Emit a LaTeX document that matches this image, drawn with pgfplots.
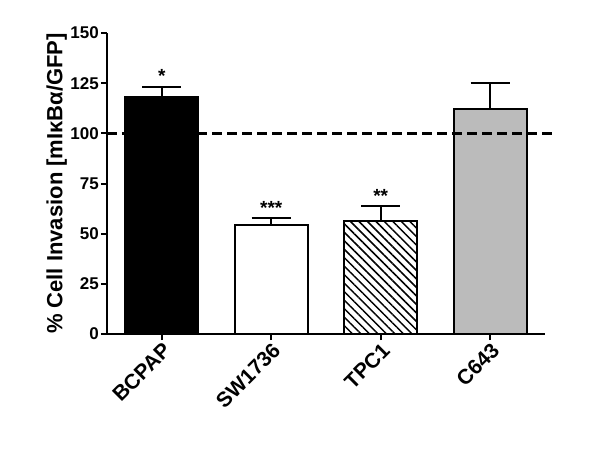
\documentclass[border=0pt]{standalone}
\usepackage{fontspec}
\setmainfont{Liberation Sans}
\usepackage{pgfplots}
\pgfplotsset{compat=1.18}
\usetikzlibrary{patterns,patterns.meta}
\definecolor{bargray}{RGB}{187,187,187}
\begin{document}
\begin{tikzpicture}[font=\bfseries\fontsize{17}{20}\selectfont]
\begin{axis}[name=a, scale only axis, width=438pt, height=301pt,
  xmin=-0.5, xmax=3.5, ymin=0, ymax=150,
  ytick={0,25,...,150}, xtick={0,1,2,3},
  xticklabels={BCPAP,SW1736,TPC1,C643},
  axis lines*=left,
  axis line style={line width=2.5pt, -},
  tick style={line width=2pt, black},
  tick align=outside, major tick length=6pt,
  xticklabel style={rotate=45, anchor=north east, inner sep=1pt,
    font=\bfseries\fontsize{21}{25}\selectfont},
  yticklabel style={inner sep=2pt},
  ylabel={\% Cell Invasion [mIκBα/GFP]},
  ylabel style={font=\bfseries\fontsize{22}{26}\selectfont, yshift=-2pt},
  /pgf/number format/assume math mode=true,
  clip=false,
]
\addplot[ybar, bar shift=0pt, bar width=0.67, fill=black, draw=black, line width=2pt,
  error bars/.cd, y dir=plus, y explicit,
  error bar style={line width=2pt, black},
  error mark options={line width=2pt, black, mark size=19.5pt, rotate=90}]
  coordinates {(0,118) +- (0,5)};
\addplot[ybar, bar shift=0pt, bar width=0.67, fill=white, draw=black, line width=2pt,
  error bars/.cd, y dir=plus, y explicit,
  error bar style={line width=2pt, black},
  error mark options={line width=2pt, black, mark size=19.5pt, rotate=90}]
  coordinates {(1,54.2) +- (0,3.6)};
\addplot[ybar, bar shift=0pt, bar width=0.67, draw=black, line width=2pt,
  pattern={Lines[angle=-45, distance=6pt, line width=1.5pt]},
  error bars/.cd, y dir=plus, y explicit,
  error bar style={line width=2pt, black},
  error mark options={line width=2pt, black, mark size=19.5pt, rotate=90}]
  coordinates {(2,56.5) +- (0,7.3)};
\addplot[ybar, bar shift=0pt, bar width=0.67, fill=bargray, draw=black, line width=2pt,
  error bars/.cd, y dir=plus, y explicit,
  error bar style={line width=2pt, black},
  error mark options={line width=2pt, black, mark size=19.5pt, rotate=90}]
  coordinates {(3,112.3) +- (0,13)};
\addplot[black, line width=2.5pt, dash pattern=on 10pt off 5pt]
  coordinates {(-0.5,100) (3.57,100)};
\addplot[draw=none, nodes near coords, point meta=explicit symbolic,
  nodes near coords style={anchor=south, font=\bfseries\fontsize{19}{22}\selectfont, inner sep=2pt}]
  coordinates {(0,124)[*] (1,58.5)[***] (2,64.5)[**]};
\end{axis}
\path (a.south west) ++(-107pt,-114pt) rectangle ++(600pt,448pt);
\end{tikzpicture}
\end{document}
